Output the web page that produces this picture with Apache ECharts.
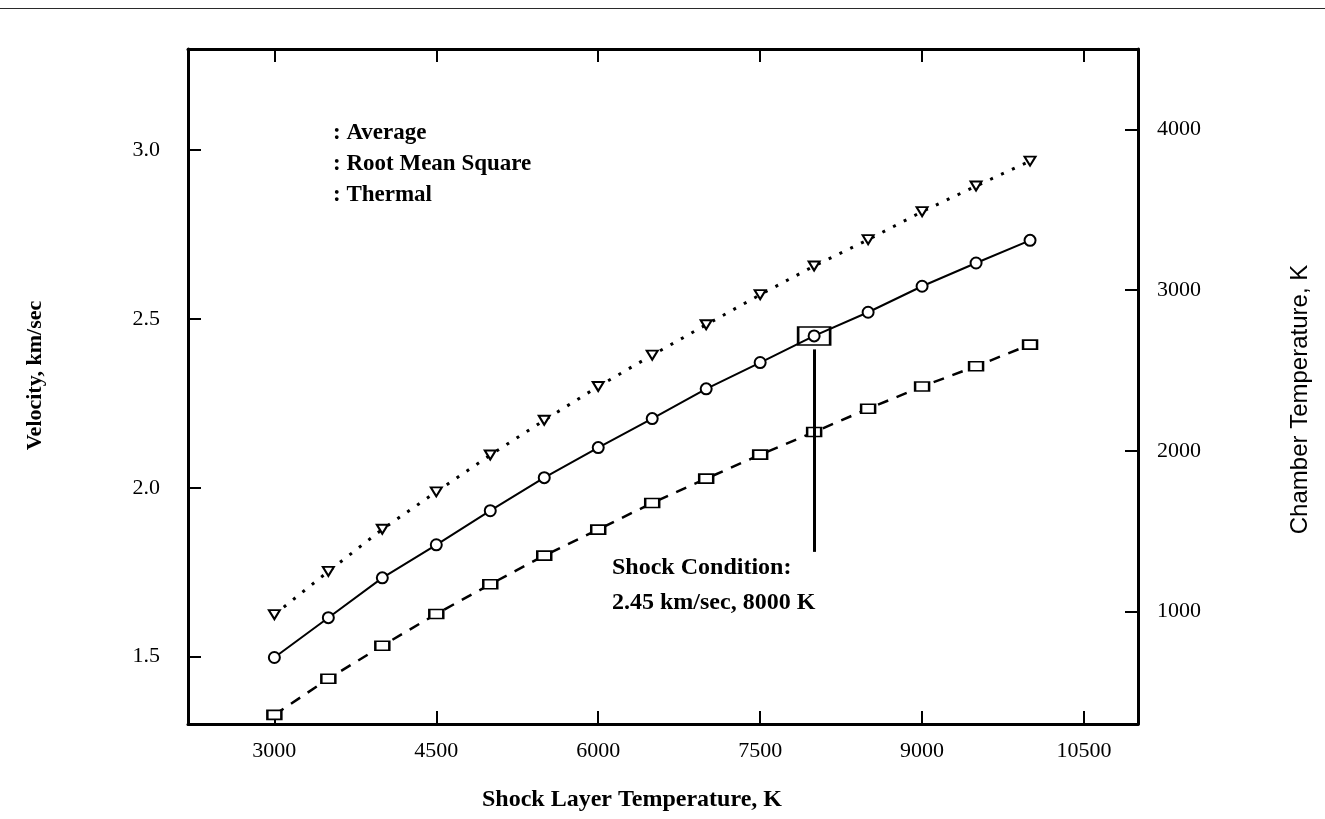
<!DOCTYPE html>
<html>
<head>
<meta charset="utf-8">
<script src="https://cdn.jsdelivr.net/npm/echarts@6/dist/echarts.min.js"></script>
<style>html,body{margin:0;padding:0;background:#fff;}#c{width:1325px;height:819px;}</style>
</head>
<body>
<div id="c"></div>
<script>
// ---- data ----
const shockTemps = [3000, 3500, 4000, 4500, 5000, 5500, 6000, 6500, 7000, 7500, 8000, 8500, 9000, 9500, 10000];
const averageVel = [1.497, 1.615, 1.733, 1.831, 1.932, 2.030, 2.119, 2.205, 2.293, 2.371, 2.450, 2.520, 2.597, 2.666, 2.733];
const rmsVel     = [1.624, 1.752, 1.877, 1.988, 2.097, 2.200, 2.300, 2.393, 2.483, 2.572, 2.657, 2.735, 2.818, 2.894, 2.968];
const thermalVel = [1.327, 1.434, 1.532, 1.626, 1.714, 1.799, 1.876, 1.955, 2.027, 2.098, 2.165, 2.234, 2.300, 2.360, 2.424];
const xTicks = [3000, 4500, 6000, 7500, 9000, 10500];
const yLeftTicks = [1.5, 2.0, 2.5, 3.0];
const yRightTicks = [1000, 2000, 3000, 4000];
const shockPoint = [8000, 2.45];
const shockLineEnd = 1.81;
const seriesNames = ['Average', 'Root Mean Square', 'Thermal'];

const pairs = v => shockTemps.map((t, i) => [t, v[i]]);
const serif = 'Liberation Serif';
const black = '#000';

const chart = echarts.init(document.getElementById('c'), null, {renderer: 'canvas'});
const axisLineStyle = {color: black, width: 3};
const tickStyle = {color: black, width: 2};
const plain = v => String(Math.round(v));

chart.setOption({
  animation: false,
  backgroundColor: '#fff',
  grid: {left: 188, right: 187, top: 49, bottom: 95, containLabel: false},
  legend: {
    data: seriesNames,
    orient: 'vertical',
    left: 322,
    top: 117,
    icon: 'none',
    itemWidth: 1,
    itemHeight: 14,
    itemGap: 8,
    formatter: ': {name}',
    textStyle: {fontFamily: serif, fontWeight: 'bold', fontSize: 23, color: black}
  },
  xAxis: [{
    type: 'value', min: 2200, max: 11000, position: 'bottom',
    name: 'Shock Layer Temperature, K', nameLocation: 'middle', nameGap: 64,
    nameTextStyle: {fontFamily: serif, fontWeight: 'bold', fontSize: 24, color: black, padding: [0, 62, 0, 0]},
    axisLine: {show: true, lineStyle: axisLineStyle},
    axisTick: {show: true, inside: true, length: 13, lineStyle: tickStyle, customValues: xTicks},
    axisLabel: {show: true, margin: 16, fontFamily: serif, fontSize: 22, color: black, customValues: xTicks, formatter: plain},
    splitLine: {show: false}
  }, {
    type: 'value', min: 2200, max: 11000, position: 'top',
    axisLine: {show: true, lineStyle: axisLineStyle},
    axisTick: {show: true, inside: true, length: 13, lineStyle: tickStyle, customValues: xTicks},
    axisLabel: {show: false},
    splitLine: {show: false}
  }],
  yAxis: [{
    type: 'value', min: 1.3, max: 3.3, position: 'left',
    name: 'Velocity, km/sec', nameLocation: 'middle', nameGap: 142, nameRotate: 90,
    nameTextStyle: {fontFamily: serif, fontWeight: 'bold', fontSize: 22, color: black, padding: [0, 0, 0, 22]},
    axisLine: {show: true, lineStyle: axisLineStyle},
    axisTick: {show: true, inside: true, length: 13, lineStyle: tickStyle, customValues: yLeftTicks},
    axisLabel: {show: true, margin: 28, fontFamily: serif, fontSize: 22, color: black, customValues: yLeftTicks,
      formatter: v => v.toFixed(1)},
    splitLine: {show: false}
  }, {
    type: 'value', min: 300, max: 4500, position: 'right',
    name: 'Chamber Temperature, K', nameLocation: 'middle', nameGap: 150, nameRotate: 90,
    nameTextStyle: {fontFamily: 'Liberation Sans', fontSize: 24, color: black, padding: [0, 26, 0, 0]},
    axisLine: {show: true, lineStyle: axisLineStyle},
    axisTick: {show: true, inside: true, length: 13, lineStyle: tickStyle, customValues: yRightTicks},
    axisLabel: {show: true, margin: 19, fontFamily: serif, fontSize: 22, color: black, customValues: yRightTicks, formatter: plain},
    splitLine: {show: false}
  }],
  series: [{
    name: 'Average', type: 'line', xAxisIndex: 0, yAxisIndex: 0,
    data: pairs(averageVel),
    symbol: 'circle', symbolSize: 11, showAllSymbol: true,
    lineStyle: {color: black, width: 2, type: 'solid'},
    itemStyle: {color: '#fff', borderColor: black, borderWidth: 2},
    markPoint: {
      symbol: 'rect', symbolSize: [32, 18], silent: true,
      itemStyle: {color: 'rgba(0,0,0,0)', borderColor: black, borderWidth: 2},
      label: {show: false},
      data: [{coord: shockPoint}]
    },
    markLine: {
      silent: true, symbol: ['none', 'none'],
      lineStyle: {color: black, width: 3, type: 'solid'},
      label: {show: false},
      data: [[{coord: [shockPoint[0], shockPoint[1] - 0.04]}, {coord: [shockPoint[0], shockLineEnd]}]]
    }
  }, {
    name: 'Root Mean Square', type: 'line', xAxisIndex: 0, yAxisIndex: 0,
    data: pairs(rmsVel),
    symbol: 'triangle', symbolRotate: 180, symbolSize: [11, 9], showAllSymbol: true,
    lineStyle: {color: black, width: 3, type: [3, 9]},
    itemStyle: {color: '#fff', borderColor: black, borderWidth: 2}
  }, {
    name: 'Thermal', type: 'line', xAxisIndex: 0, yAxisIndex: 0,
    data: pairs(thermalVel),
    symbol: 'rect', symbolSize: [14, 9], showAllSymbol: true,
    lineStyle: {color: black, width: 2.5, type: [11, 9]},
    itemStyle: {color: '#fff', borderColor: black, borderWidth: 2}
  }],
  graphic: [{
    type: 'rect', left: 0, top: 8, silent: true,
    shape: {width: 1325, height: 1},
    style: {fill: '#2a2a2a'}
  }, {
    type: 'text', left: 612, top: 556, silent: true,
    style: {text: 'Shock Condition:', font: 'bold 24px "Liberation Serif"', fill: black}
  }, {
    type: 'text', left: 612, top: 591, silent: true,
    style: {text: '2.45 km/sec, 8000 K', font: 'bold 24px "Liberation Serif"', fill: black}
  }]
});
</script>
</body>
</html>
